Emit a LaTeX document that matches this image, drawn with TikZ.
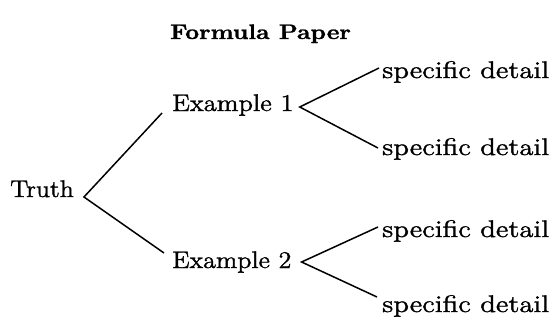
\documentclass[tikz,border=0pt]{standalone}
\usepackage{fontspec}
\newfontfamily\lmheavy{lmroman12-regular.otf}[FakeBold=1.3]
\newfontfamily\lmheavybf{lmroman10-bold.otf}[FakeBold=1.0]
\usetikzlibrary{calc}
\begin{document}
\begin{tikzpicture}[x=1pt,y=-1pt,
  lbl/.style={inner sep=0pt, anchor=base west, font=\lmheavy\fontsize{24}{28}\selectfont},
  ttl/.style={inner sep=0pt, anchor=base, font=\lmheavybf\fontsize{21}{25}\selectfont},
  branch/.style={line width=1.5pt, line join=miter}]
\useasboundingbox (0,0) rectangle (552,325);
\newcommand\wide[2]{\scalebox{#1}[1]{#2}}
\node[ttl] (title) at (260.5,39) {\wide{1.15}{Formula Paper}};
\node[lbl] (truth) at (10,197) {\wide{1.07}{Truth}};
\node[lbl] (ex1) at (172,111) {\wide{1.11}{Example 1}};
\node[lbl] (ex2) at (172,268) {\wide{1.09}{Example 2}};
\node[lbl] (s1) at (382,78) {\wide{1.20}{specific detail}};
\node[lbl] (s2) at (382,155) {\wide{1.20}{specific detail}};
\node[lbl] (s3) at (382,237) {\wide{1.20}{specific detail}};
\node[lbl] (s4) at (382,312) {\wide{1.20}{specific detail}};
\coordinate (tv) at ($(truth.base east)+(10,0)$);
\coordinate (v1) at ($(ex1.base east)+(6,-4)$);
\coordinate (v2) at ($(ex2.base east)+(10,-6)$);
\draw[branch] ($(ex1.base west)+(-10,2)$) -- (tv) -- ($(ex2.base west)+(-8,-15)$);
\draw[branch] ($(s1.base west)+(-3,-10)$) -- (v1) -- ($(s2.base west)+(-4,-7)$);
\draw[branch] ($(s3.base west)+(-4,-10)$) -- (v2) -- ($(s4.base west)+(-5,-15)$);
\end{tikzpicture}
\end{document}
